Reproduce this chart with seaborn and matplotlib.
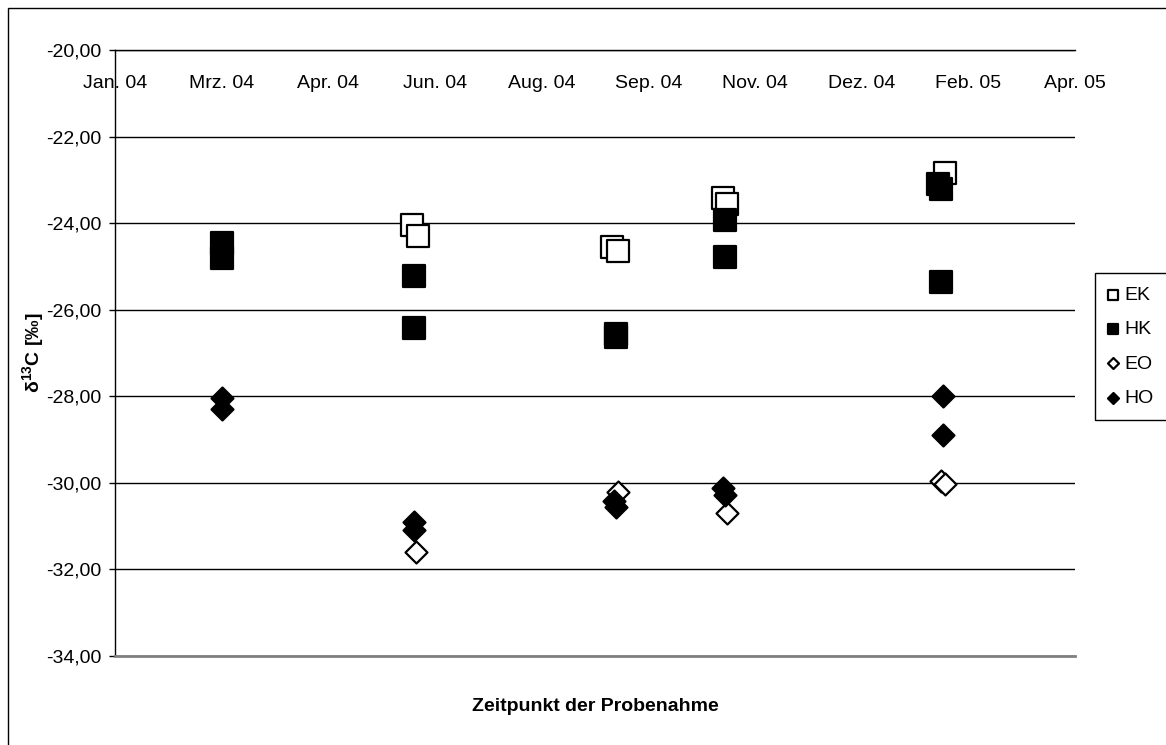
import pandas as pd
import numpy as np
import matplotlib.pyplot as plt
import matplotlib.ticker as mticker
from matplotlib.patches import Rectangle
import seaborn as sns

# sampling dates and d13C values per series
ek_dates = ['2004-06-01', '2004-06-04', '2004-09-03', '2004-09-06', '2004-10-25', '2004-10-27', '2005-02-06']
ek_vals = [-24.05, -24.30, -24.55, -24.65, -23.42, -23.55, -22.85]

hk_dates = ['2004-03-04', '2004-03-04', '2004-06-02', '2004-06-02', '2004-09-05', '2004-09-05',
            '2004-10-26', '2004-10-26', '2005-02-03', '2005-02-04', '2005-02-04']
hk_vals = [-24.45, -24.80, -25.22, -26.42, -26.55, -26.62, -23.93, -24.78, -23.10, -23.20, -25.35]

eo_dates = ['2004-06-03', '2004-09-06', '2004-10-27', '2005-02-04', '2005-02-06']
eo_vals = [-31.60, -30.20, -30.70, -29.95, -30.02]

ho_dates = ['2004-03-04', '2004-03-04', '2004-06-02', '2004-06-02', '2004-09-04', '2004-09-05',
            '2004-10-25', '2004-10-26', '2005-02-05', '2005-02-05']
ho_vals = [-28.05, -28.30, -30.90, -31.10, -30.42, -30.55, -30.12, -30.28, -28.00, -28.90]

x_labels = ['Jan. 04', 'Mrz. 04', 'Apr. 04', 'Jun. 04', 'Aug. 04',
            'Sep. 04', 'Nov. 04', 'Dez. 04', 'Feb. 05', 'Apr. 05']
y_ticks = [-34, -32, -30, -28, -26, -24, -22, -20]

sns.set_style('white')
plt.rcParams['font.family'] = ['Liberation Sans', 'DejaVu Sans']
plt.rcParams['mathtext.fontset'] = 'custom'
plt.rcParams['mathtext.rm'] = 'Liberation Sans'
plt.rcParams['mathtext.bf'] = 'Liberation Sans:bold'
for key in ['text.color', 'axes.labelcolor', 'xtick.color', 'ytick.color']:
    plt.rcParams[key] = 'black'

W, H = 1166, 745
fig = plt.figure(figsize=(W / 100, H / 100), dpi=100)
L, R, T, B = 115, 1075, 50, 656
ax = fig.add_axes([L / W, 1 - B / H, (R - L) / W, (B - T) / H])

series = [
    ('EK', ek_dates, ek_vals, 's', 'white', 250),
    ('HK', hk_dates, hk_vals, 's', 'black', 250),
    ('EO', eo_dates, eo_vals, 'D', 'white', 125),
    ('HO', ho_dates, ho_vals, 'D', 'black', 125),
]
for name, d, v, m, fc, s in series:
    df = pd.DataFrame({'date': pd.to_datetime(d), 'val': v})
    sns.scatterplot(data=df, x='date', y='val', marker=m, s=s, color=fc,
                    edgecolor='black', linewidth=1.6, ax=ax, label=name, zorder=3)

# Excel-style date axis: min 14.01.2004, major unit 50 days
x0 = pd.Timestamp('2004-01-14')
ticks = pd.date_range(x0, periods=len(x_labels), freq='50D')
ax.set_xlim(ticks[0], ticks[-1])
ax.set_xticks(ticks)
ax.set_xticklabels(x_labels)
ax.set_ylim(-34, -20)
ax.set_yticks(y_ticks)
ax.yaxis.set_major_formatter(mticker.FuncFormatter(lambda v, p: f'{v:.2f}'.replace('.', ',')))

ax.tick_params(axis='x', top=True, labeltop=True, bottom=False, labelbottom=False,
               length=0, pad=-30, labelsize=14)
ax.tick_params(axis='y', left=True, length=4, width=1, color='black', labelsize=14, pad=6)

ax.grid(axis='y', color='black', linewidth=1)
ax.grid(axis='x', visible=False)
for side in ['left', 'top']:
    ax.spines[side].set_color('black')
    ax.spines[side].set_linewidth(1)
ax.spines['bottom'].set_color('#808080')
ax.spines['bottom'].set_linewidth(2)
ax.spines['right'].set_visible(False)

ax.set_xlabel('Zeitpunkt der Probenahme', fontsize=14, fontweight='bold')
ax.xaxis.set_label_position('bottom')
ax.xaxis.set_label_coords(0.5, -0.069)
ax.set_ylabel(r'δ$^{\mathbf{13}}$C [‰]', fontsize=14, fontweight='bold')
ax.yaxis.set_label_coords(-0.071, 0.5)

handles, labels = ax.get_legend_handles_labels()
ax.legend_.remove()
leg = fig.legend(handles, labels, loc='upper left', bbox_to_anchor=(1095 / W, 1 - 273 / H),
                 fontsize=14, markerscale=0.5, frameon=True, fancybox=False, framealpha=1,
                 edgecolor='black', labelspacing=0.85, handletextpad=0.4, handlelength=0.4,
                 borderpad=0.7, borderaxespad=0)
leg.get_frame().set_linewidth(1)

fig.patches.append(Rectangle((8 / W, -0.1), 1.2, 1.1 - 8 / H, transform=fig.transFigure,
                             fill=False, edgecolor='black', linewidth=1))

fig.savefig('out.png', dpi=100)
